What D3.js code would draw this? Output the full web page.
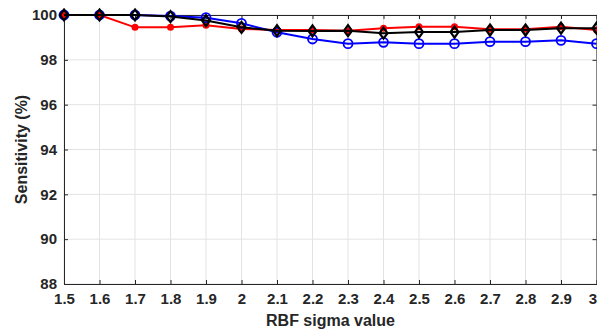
<!DOCTYPE html>
<html>
<head>
<meta charset="utf-8">
<script src="https://cdn.jsdelivr.net/npm/d3@7"></script>
<style>
  body { margin: 0; background: #fff; }
  text { font-family: "Liberation Sans", Arial, sans-serif; }
</style>
</head>
<body>
<div id="chart"></div>
<script>
// sigma values on the x axis
const sigmas = [1.5, 1.6, 1.7, 1.8, 1.9, 2.0, 2.1, 2.2, 2.3, 2.4, 2.5, 2.6, 2.7, 2.8, 2.9, 3.0];
const xTicks = sigmas;
const yTicks = [88, 90, 92, 94, 96, 98, 100];

// sensitivity (%) per series
const redVals   = [100, 100, 99.45, 99.45, 99.54, 99.38, 99.33, 99.33, 99.3, 99.41, 99.48, 99.48, 99.36, 99.36, 99.48, 99.33];
const blueVals  = [100, 100, 100, 99.95, 99.88, 99.63, 99.23, 98.93, 98.72, 98.78, 98.72, 98.72, 98.81, 98.81, 98.87, 98.72];
const blackVals = [100, 100, 100, 99.93, 99.75, 99.45, 99.3, 99.29, 99.3, 99.19, 99.24, 99.24, 99.33, 99.33, 99.41, 99.41];

const W = 597, H = 331;
const margin = { top: 15, right: 0, bottom: 47, left: 64 };
const width = W - margin.left - margin.right,
      height = H - margin.top - margin.bottom;

const svg = d3.select("#chart").append("svg")
    .attr("width", W)
    .attr("height", H);

const g = svg.append("g").attr("transform", `translate(${margin.left},${margin.top})`);

const x = d3.scaleLinear().domain([1.5, 3.0]).range([0, width - 0.5]);
const y = d3.scaleLinear().domain([88, 100]).range([height, 0]);

// grid
g.append("g").selectAll("line")
    .data(xTicks)
    .enter().append("line")
    .attr("x1", d => x(d)).attr("x2", d => x(d))
    .attr("y1", 0).attr("y2", height)
    .attr("stroke", "#e3e3e3").attr("stroke-width", 1);
g.append("g").selectAll("line")
    .data(yTicks)
    .enter().append("line")
    .attr("x1", 0).attr("x2", width)
    .attr("y1", d => y(d)).attr("y2", d => y(d))
    .attr("stroke", "#e3e3e3").attr("stroke-width", 1);

// axes (ticks inside, MATLAB style)
const axisColor = "#262626";
const xAxis = g.append("g")
    .attr("transform", `translate(0,${height})`)
    .call(d3.axisBottom(x).tickValues(xTicks).tickSizeInner(-4).tickSizeOuter(0).tickPadding(9)
        .tickFormat(d => d3.format("~g")(d)));
const yAxis = g.append("g")
    .call(d3.axisLeft(y).tickValues(yTicks).tickSizeInner(-4).tickSizeOuter(0).tickPadding(7));
const xTop = g.append("g")
    .call(d3.axisTop(x).tickValues(xTicks).tickSizeInner(-4).tickSizeOuter(0).tickFormat(""));
const yRight = g.append("g")
    .attr("transform", `translate(${width - 0.5},0)`)
    .call(d3.axisRight(y).tickValues(yTicks).tickSizeInner(-4).tickSizeOuter(0).tickFormat(""));

[xAxis, yAxis, xTop, yRight].forEach(a => {
    a.select(".domain").attr("stroke", axisColor).attr("stroke-width", 1);
    a.selectAll(".tick line").attr("stroke", axisColor);
    a.selectAll(".tick text")
        .attr("fill", axisColor)
        .style("font-size", "15px")
        .style("font-weight", "bold");
});
// last label sits at the window edge; pull it in so it stays visible
xAxis.selectAll(".tick text").filter(d => d === 3.0).attr("dx", -4);

// series
const series = [
    { name: "red", vals: redVals, color: "#ff0000", marker: "dot" },
    { name: "blue", vals: blueVals, color: "#0000ff", marker: "circle" },
    { name: "black", vals: blackVals, color: "#000000", marker: "diamond" }
];

const line = d3.line().x(d => x(d[0])).y(d => y(d[1]));

series.forEach(s => {
    const pts = sigmas.map((v, i) => [v, s.vals[i]]);
    const sg = g.append("g");
    sg.append("path")
        .datum(pts)
        .attr("fill", "none")
        .attr("stroke", s.color)
        .attr("stroke-width", 2)
        .attr("d", line);

    if (s.marker === "dot") {
        sg.selectAll("circle").data(pts).enter().append("circle")
            .attr("cx", d => x(d[0])).attr("cy", d => y(d[1]))
            .attr("r", 3.5)
            .attr("fill", s.color);
    } else if (s.marker === "circle") {
        sg.selectAll("circle").data(pts).enter().append("circle")
            .attr("cx", d => x(d[0])).attr("cy", d => y(d[1]))
            .attr("r", 4.5)
            .attr("fill", "none")
            .attr("stroke", s.color).attr("stroke-width", 1.8);
    } else {
        sg.selectAll("path.mk").data(pts).enter().append("path")
            .attr("class", "mk")
            .attr("d", d => {
                const cx = x(d[0]), cy = y(d[1]);
                return `M${cx},${cy - 5.5}L${cx + 4},${cy}L${cx},${cy + 5.5}L${cx - 4},${cy}Z`;
            })
            .attr("fill", "none")
            .attr("stroke", s.color).attr("stroke-width", 2.2);
    }
});

// labels
svg.append("text")
    .attr("x", margin.left + width / 2)
    .attr("y", 326)
    .attr("text-anchor", "middle")
    .style("font-size", "16px")
    .style("font-weight", "bold")
    .attr("fill", axisColor)
    .text("RBF sigma value");

svg.append("text")
    .attr("transform", `translate(27,${margin.top + height / 2}) rotate(-90)`)
    .attr("text-anchor", "middle")
    .style("font-size", "16px")
    .style("font-weight", "bold")
    .attr("fill", axisColor)
    .text("Sensitivity (%)");
</script>
</body>
</html>
